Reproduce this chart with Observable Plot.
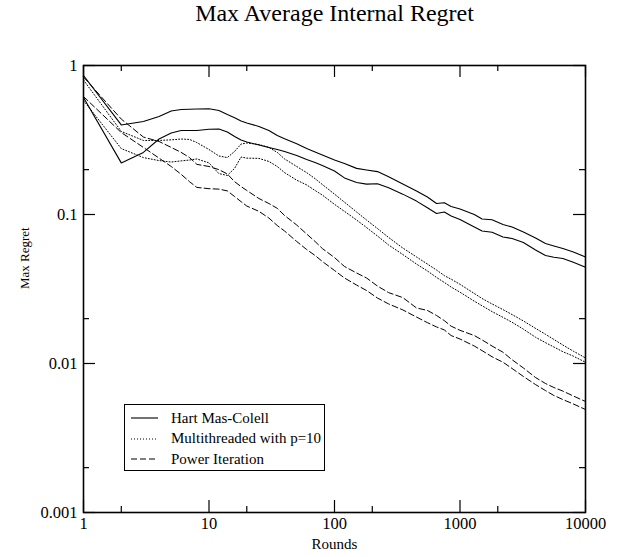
<!DOCTYPE html>
<html>
<head>
<meta charset="utf-8">
<script src="https://cdn.jsdelivr.net/npm/d3@7"></script>
<script src="https://cdn.jsdelivr.net/npm/@observablehq/plot@0.6"></script>
<style>
  body { margin: 0; background: #fff; }
  #wrap { position: relative; width: 619px; height: 557px; font-family: "Liberation Serif", "Times New Roman", serif; }
  #legend { position: absolute; left: 124px; top: 404px; width: 201px; height: 67px; border: 1px solid #000; box-sizing: border-box; background: #fff; }
  .row { position: absolute; left: 6px; height: 20px; display: flex; align-items: center; font-size: 15px; color: #000; white-space: nowrap; }
  .row svg { margin-right: 13px; }
</style>
</head>
<body>
<div id="wrap"></div>
<script>
// ---- data ----
const title = "Max Average Internal Regret";
const xLabel = "Rounds";
const yLabel = "Max Regret";
const seriesNames = ["Hart Mas-Colell", "Multithreaded with p=10", "Power Iteration"];

const rounds = [1,2,3,4,5,6,7,8,10,12,14,16,18,20,25,30,35,40,50,60,70,80,100,120,150,180,220,270,350,450,550,650,750,850,1000,1300,1500,1800,2200,2600,3200,4000,4800,5600,6600,8000,10000];

const hartUpper = [0.857,0.399,0.421,0.455,0.495,0.507,0.509,0.511,0.512,0.499,0.469,0.446,0.424,0.411,0.390,0.366,0.339,0.322,0.298,0.277,0.263,0.251,0.232,0.220,0.204,0.199,0.194,0.179,0.160,0.144,0.131,0.1185,0.120,0.113,0.109,0.100,0.0933,0.0922,0.0857,0.0824,0.0763,0.0696,0.0639,0.0615,0.0591,0.0560,0.0519];
const hartLower = [0.610,0.222,0.261,0.321,0.352,0.366,0.366,0.366,0.373,0.375,0.358,0.334,0.316,0.307,0.293,0.282,0.273,0.265,0.249,0.234,0.223,0.213,0.196,0.176,0.164,0.160,0.161,0.151,0.137,0.123,0.111,0.1015,0.104,0.0977,0.0926,0.0824,0.0775,0.0761,0.0706,0.0690,0.0649,0.0578,0.0531,0.0517,0.0507,0.0478,0.0443];
const multiUpper = [0.799,0.361,0.314,0.314,0.317,0.321,0.319,0.304,0.273,0.247,0.241,0.265,0.297,0.302,0.295,0.282,0.261,0.236,0.210,0.191,0.174,0.159,0.137,0.121,0.104,0.0918,0.0805,0.0701,0.0596,0.0519,0.0465,0.0424,0.0389,0.0368,0.0340,0.0295,0.0273,0.0251,0.0230,0.0213,0.0193,0.0172,0.0157,0.0145,0.0133,0.0121,0.0109];
const multiLower = [0.582,0.277,0.241,0.230,0.225,0.229,0.232,0.236,0.222,0.188,0.183,0.204,0.243,0.239,0.238,0.227,0.210,0.191,0.170,0.158,0.145,0.135,0.117,0.105,0.0918,0.0818,0.0717,0.0624,0.0539,0.0465,0.0418,0.0378,0.0350,0.0326,0.0301,0.0262,0.0244,0.0223,0.0204,0.0189,0.0170,0.0150,0.0138,0.0129,0.0120,0.0112,0.0102];
const powerUpper = [0.837,0.437,0.331,0.309,0.282,0.261,0.241,0.217,0.210,0.200,0.187,0.166,0.154,0.145,0.128,0.1185,0.110,0.0985,0.0850,0.0740,0.0659,0.0591,0.0514,0.0448,0.0405,0.0375,0.0331,0.0299,0.0277,0.0236,0.0227,0.0210,0.0194,0.0178,0.0167,0.0154,0.0144,0.0131,0.0119,0.0106,0.00933,0.00805,0.00734,0.00690,0.00653,0.00605,0.00556];
const powerLower = [0.619,0.355,0.282,0.239,0.210,0.186,0.166,0.152,0.149,0.148,0.144,0.132,0.122,0.114,0.105,0.0947,0.0843,0.0775,0.0659,0.0582,0.0531,0.0484,0.0421,0.0375,0.0336,0.0309,0.0275,0.0251,0.0229,0.0205,0.0188,0.0176,0.0168,0.0154,0.0146,0.0131,0.0122,0.0111,0.0102,0.00926,0.00818,0.00722,0.00658,0.00610,0.00573,0.00535,0.00491];

const xMajor = [1, 10, 100, 1000, 10000];
const xMinor = [2, 20, 200, 2000];
const xTickLabels = ["1", "10", "100", "1000", "10000"];
const yMajor = [0.001, 0.01, 0.1, 1];
const yMinor = [0.002, 0.02, 0.2];
const yTickLabels = ["0.001", "0.01", "0.1", "1"];

// ---- layout ----
const W = 619, H = 557;
const mT = 65, mB = 45, mL = 83, mR = 34;
const innerW = W - mL - mR, innerH = H - mT - mB;
const majorLen = 12, minorLen = 6;

const solid = {stroke: "#000", strokeWidth: 1.1};
const dotted = {stroke: "#000", strokeWidth: 1, strokeDasharray: "1,2"};
const dashed = {stroke: "#000", strokeWidth: 1, strokeDasharray: "6,3"};

const line = (vals, style) => Plot.line(rounds, {x: d => d, y: (d, i) => vals[i], curve: "linear", ...style});

const chart = Plot.plot({
  width: W, height: H,
  marginTop: mT, marginBottom: mB, marginLeft: mL, marginRight: mR,
  style: {fontFamily: '"Liberation Serif", "Times New Roman", serif', fontSize: "16.5px", color: "#000", background: "#fff"},
  x: {type: "log", domain: [1, 10000]},
  y: {type: "log", domain: [0.001, 1]},
  marks: [
    line(hartUpper, solid),
    line(hartLower, solid),
    line(multiUpper, dotted),
    line(multiLower, dotted),
    line(powerUpper, dashed),
    line(powerLower, dashed),
    // inward ticks, all four sides
    Plot.ruleX(xMajor, {x: d => d, insetTop: innerH - majorLen, stroke: "#000", strokeWidth: 1.2}),
    Plot.ruleX(xMajor, {x: d => d, insetBottom: innerH - majorLen, stroke: "#000", strokeWidth: 1.2}),
    Plot.ruleX(xMinor, {x: d => d, insetTop: innerH - minorLen, stroke: "#000", strokeWidth: 1.2}),
    Plot.ruleX(xMinor, {x: d => d, insetBottom: innerH - minorLen, stroke: "#000", strokeWidth: 1.2}),
    Plot.ruleY(yMajor, {y: d => d, insetRight: innerW - majorLen, stroke: "#000", strokeWidth: 1.2}),
    Plot.ruleY(yMajor, {y: d => d, insetLeft: innerW - majorLen, stroke: "#000", strokeWidth: 1.2}),
    Plot.ruleY(yMinor, {y: d => d, insetRight: innerW - minorLen, stroke: "#000", strokeWidth: 1.2}),
    Plot.ruleY(yMinor, {y: d => d, insetLeft: innerW - minorLen, stroke: "#000", strokeWidth: 1.2}),
    Plot.frame({stroke: "#000", strokeWidth: 1.6}),
    // tick labels
    Plot.axisX(xMajor, {tickSize: 0, tickPadding: 5, tickFormat: d => xTickLabels[xMajor.indexOf(d)], label: null, fill: "#000"}),
    Plot.axisY(yMajor, {tickSize: 0, tickPadding: 6, tickFormat: d => yTickLabels[yMajor.indexOf(d)], label: null, fill: "#000"}),
    // titles
    Plot.text([title], {frameAnchor: "top", dy: -45, lineAnchor: "bottom", fontSize: 24, fill: "#000"}),
    Plot.text([xLabel], {frameAnchor: "bottom", dy: 36, fontSize: 15, fill: "#000"}),
    Plot.text([yLabel], {frameAnchor: "left", dx: -59, rotate: -90, fontSize: 13, fill: "#000"})
  ]
});

const wrap = document.getElementById("wrap");
wrap.appendChild(chart);

// legend (inside plot area, bottom-left)
const legendStyles = [
  {dash: null, width: 1.1},
  {dash: "1,2", width: 1},
  {dash: "6,3", width: 1}
];
const legend = document.createElement("div");
legend.id = "legend";
const rowTops = [3, 23.5, 44];
seriesNames.forEach((name, i) => {
  const row = document.createElement("div");
  row.className = "row";
  row.style.top = rowTops[i] + "px";
  const s = legendStyles[i];
  row.innerHTML = `<svg width="27" height="4"><line x1="0" y1="2" x2="27" y2="2" stroke="#000" stroke-width="${s.width}" ${s.dash ? `stroke-dasharray="${s.dash}"` : ""}/></svg><span></span>`;
  row.querySelector("span").textContent = name;
  legend.appendChild(row);
});
wrap.appendChild(legend);
</script>
</body>
</html>
